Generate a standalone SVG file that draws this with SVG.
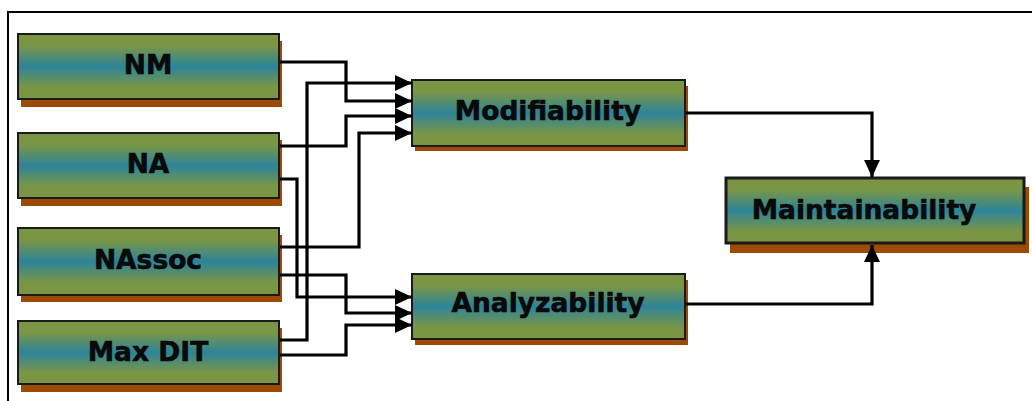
<svg xmlns="http://www.w3.org/2000/svg" width="1032" height="401" viewBox="0 0 1032 401">
<style>
.box{fill:url(#g);stroke:#1a1a1a;stroke-width:2}
.shadow{fill:#9c4b06}
.lbl{font-family:"DejaVu Sans",Verdana,sans-serif;font-weight:bold;font-size:26.5px;fill:#0a0a0a;stroke:#0a0a0a;stroke-width:0.6;text-anchor:middle}
.conn{fill:none;stroke:#000;stroke-width:3.2;marker-end:url(#ah)}
</style>
<defs>
<linearGradient id="g" x1="0" y1="0" x2="0" y2="1">
<stop offset="0" stop-color="#7a9645"/>
<stop offset="0.18" stop-color="#7a9645"/>
<stop offset="0.5" stop-color="#2e8499"/>
<stop offset="0.82" stop-color="#7a9645"/>
<stop offset="1" stop-color="#7a9645"/>
</linearGradient>
<marker id="ah" markerUnits="userSpaceOnUse" markerWidth="17" markerHeight="16" refX="17" refY="8" orient="auto">
<path d="M0,0 L17,8 L0,16 z" fill="#000"/>
</marker>
</defs>
<rect x="0" y="0" width="1032" height="401" fill="#fff"/>
<rect x="8" y="12" width="1040" height="400" fill="none" stroke="#000" stroke-width="2"/>

<g id="nm">
<rect class="shadow" x="21" y="41" width="261" height="66"/>
<rect class="box" x="18" y="34" width="261" height="65"/>
<text class="lbl" x="148" y="74">NM</text>
</g>
<g id="na">
<rect class="shadow" x="21" y="140" width="261" height="66"/>
<rect class="box" x="18" y="133" width="261" height="65"/>
<text class="lbl" x="148" y="173">NA</text>
</g>
<g id="nassoc">
<rect class="shadow" x="21" y="235" width="261" height="67"/>
<rect class="box" x="18" y="228" width="261" height="67"/>
<text class="lbl" x="148" y="269">NAssoc</text>
</g>
<g id="maxdit">
<rect class="shadow" x="21" y="328" width="261" height="64"/>
<rect class="box" x="18" y="321" width="261" height="63"/>
<text class="lbl" x="148" y="361">Max DIT</text>
</g>
<g id="modifiability">
<rect class="shadow" x="415" y="86" width="273" height="65"/>
<rect class="box" x="412" y="80" width="273" height="66"/>
<text class="lbl" x="548" y="120">Modifiability</text>
</g>
<g id="analyzability">
<rect class="shadow" x="415" y="280" width="273" height="65"/>
<rect class="box" x="412" y="274" width="273" height="65"/>
<text class="lbl" x="548" y="312">Analyzability</text>
</g>
<g id="maintainability">
<rect class="shadow" x="730" y="187" width="299" height="66"/>
<rect class="box" x="726" y="178" width="298" height="65" style="stroke-width:3"/>
<text class="lbl" x="864" y="219">Maintainability</text>
</g>

<g id="connectors">
<path class="conn" d="M280,62 H346 V101 H412"/>
<path class="conn" d="M280,340 H307 V83 H412"/>
<path class="conn" d="M280,146 H346 V116 H412"/>
<path class="conn" d="M280,247 H359 V133 H412"/>
<path class="conn" d="M280,179 H297 V297 H412"/>
<path class="conn" d="M280,275 H346 V313 H412"/>
<path class="conn" d="M280,355 H346 V325 H412"/>
<path class="conn" d="M686,113 H872 V177"/>
<path class="conn" d="M686,304 H872 V245"/>
</g>
</svg>
